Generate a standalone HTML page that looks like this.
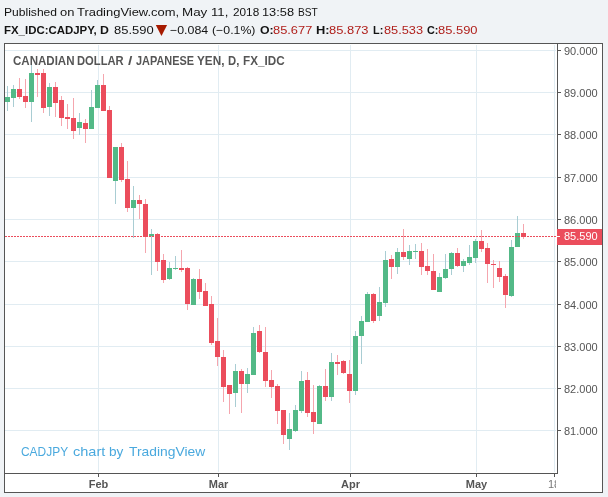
<!DOCTYPE html>
<html><head><meta charset="utf-8"><title>CADJPY chart by TradingView</title>
<style>
html,body{margin:0;padding:0}
body{width:608px;height:497px;background:#f0f3f6;position:relative;overflow:hidden;font-family:"Liberation Sans",Arial,sans-serif;}
.t{position:absolute;white-space:nowrap;line-height:1;transform-origin:0 0;}
.pl{font-size:11px;color:#555;left:564px}
.tl{font-size:11px;color:#555;font-weight:bold;text-align:center;width:40px}
</style></head><body>
<svg width="608" height="497" viewBox="0 0 608 497" shape-rendering="crispEdges" style="position:absolute;left:0;top:0">
<rect x="4" y="43" width="599" height="450" fill="#fff"/>
<rect x="5" y="50" width="551" height="1" fill="#e1ecf2"/>
<rect x="5" y="92" width="551" height="1" fill="#e1ecf2"/>
<rect x="5" y="134" width="551" height="1" fill="#e1ecf2"/>
<rect x="5" y="177" width="551" height="1" fill="#e1ecf2"/>
<rect x="5" y="219" width="551" height="1" fill="#e1ecf2"/>
<rect x="5" y="261" width="551" height="1" fill="#e1ecf2"/>
<rect x="5" y="304" width="551" height="1" fill="#e1ecf2"/>
<rect x="5" y="346" width="551" height="1" fill="#e1ecf2"/>
<rect x="5" y="388" width="551" height="1" fill="#e1ecf2"/>
<rect x="5" y="430" width="551" height="1" fill="#e1ecf2"/>
<rect x="98" y="45" width="1" height="427" fill="#e1ecf2"/>
<rect x="218" y="45" width="1" height="427" fill="#e1ecf2"/>
<rect x="350" y="45" width="1" height="427" fill="#e1ecf2"/>
<rect x="476" y="45" width="1" height="427" fill="#e1ecf2"/>
<rect x="554" y="45" width="1" height="427" fill="#e1ecf2"/>
<rect x="7" y="86" width="1" height="25" fill="#a9cdd3"/>
<rect x="13" y="85" width="1" height="22" fill="#a9cdd3"/>
<rect x="19" y="78" width="1" height="21" fill="#f5a6ae"/>
<rect x="25" y="79" width="1" height="29" fill="#f5a6ae"/>
<rect x="31" y="65" width="1" height="57" fill="#a9cdd3"/>
<rect x="37" y="69" width="1" height="28" fill="#f5a6ae"/>
<rect x="43" y="69" width="1" height="44" fill="#f5a6ae"/>
<rect x="49" y="83" width="1" height="33" fill="#a9cdd3"/>
<rect x="55" y="82" width="1" height="35" fill="#f5a6ae"/>
<rect x="61" y="96" width="1" height="30" fill="#f5a6ae"/>
<rect x="67" y="104" width="1" height="25" fill="#f5a6ae"/>
<rect x="73" y="98" width="1" height="41" fill="#f5a6ae"/>
<rect x="79" y="113" width="1" height="22" fill="#a9cdd3"/>
<rect x="85" y="119" width="1" height="24" fill="#f5a6ae"/>
<rect x="91" y="90" width="1" height="39" fill="#a9cdd3"/>
<rect x="97" y="80" width="1" height="28" fill="#a9cdd3"/>
<rect x="103" y="74" width="1" height="37" fill="#f5a6ae"/>
<rect x="109" y="106" width="1" height="72" fill="#f5a6ae"/>
<rect x="115" y="147" width="1" height="57" fill="#a9cdd3"/>
<rect x="121" y="143" width="1" height="39" fill="#f5a6ae"/>
<rect x="127" y="161" width="1" height="51" fill="#f5a6ae"/>
<rect x="133" y="186" width="1" height="52" fill="#a9cdd3"/>
<rect x="139" y="195" width="1" height="24" fill="#f5a6ae"/>
<rect x="145" y="199" width="1" height="54" fill="#f5a6ae"/>
<rect x="151" y="229" width="1" height="46" fill="#a9cdd3"/>
<rect x="157" y="233" width="1" height="38" fill="#f5a6ae"/>
<rect x="163" y="254" width="1" height="29" fill="#f5a6ae"/>
<rect x="169" y="262" width="1" height="18" fill="#a9cdd3"/>
<rect x="175" y="256" width="1" height="14" fill="#a9cdd3"/>
<rect x="181" y="250" width="1" height="22" fill="#f5a6ae"/>
<rect x="187" y="267" width="1" height="43" fill="#f5a6ae"/>
<rect x="193" y="278" width="1" height="27" fill="#a9cdd3"/>
<rect x="199" y="269" width="1" height="30" fill="#f5a6ae"/>
<rect x="205" y="283" width="1" height="23" fill="#f5a6ae"/>
<rect x="211" y="296" width="1" height="49" fill="#f5a6ae"/>
<rect x="217" y="318" width="1" height="48" fill="#f5a6ae"/>
<rect x="223" y="350" width="1" height="52" fill="#f5a6ae"/>
<rect x="229" y="385" width="1" height="29" fill="#f5a6ae"/>
<rect x="235" y="364" width="1" height="43" fill="#a9cdd3"/>
<rect x="241" y="369" width="1" height="44" fill="#f5a6ae"/>
<rect x="247" y="368" width="1" height="25" fill="#a9cdd3"/>
<rect x="253" y="327" width="1" height="48" fill="#a9cdd3"/>
<rect x="259" y="325" width="1" height="28" fill="#f5a6ae"/>
<rect x="265" y="327" width="1" height="60" fill="#f5a6ae"/>
<rect x="271" y="370" width="1" height="28" fill="#f5a6ae"/>
<rect x="277" y="384" width="1" height="40" fill="#f5a6ae"/>
<rect x="283" y="410" width="1" height="34" fill="#f5a6ae"/>
<rect x="289" y="413" width="1" height="37" fill="#a9cdd3"/>
<rect x="295" y="405" width="1" height="27" fill="#a9cdd3"/>
<rect x="301" y="371" width="1" height="42" fill="#a9cdd3"/>
<rect x="307" y="372" width="1" height="45" fill="#f5a6ae"/>
<rect x="313" y="385" width="1" height="49" fill="#f5a6ae"/>
<rect x="319" y="385" width="1" height="39" fill="#a9cdd3"/>
<rect x="325" y="369" width="1" height="32" fill="#f5a6ae"/>
<rect x="331" y="353" width="1" height="48" fill="#a9cdd3"/>
<rect x="337" y="355" width="1" height="20" fill="#f5a6ae"/>
<rect x="343" y="360" width="1" height="14" fill="#f5a6ae"/>
<rect x="349" y="360" width="1" height="43" fill="#f5a6ae"/>
<rect x="355" y="331" width="1" height="64" fill="#a9cdd3"/>
<rect x="361" y="316" width="1" height="48" fill="#a9cdd3"/>
<rect x="367" y="292" width="1" height="30" fill="#a9cdd3"/>
<rect x="373" y="293" width="1" height="30" fill="#f5a6ae"/>
<rect x="379" y="287" width="1" height="34" fill="#a9cdd3"/>
<rect x="385" y="251" width="1" height="56" fill="#a9cdd3"/>
<rect x="391" y="255" width="1" height="24" fill="#f5a6ae"/>
<rect x="397" y="248" width="1" height="26" fill="#a9cdd3"/>
<rect x="403" y="229" width="1" height="31" fill="#f5a6ae"/>
<rect x="409" y="245" width="1" height="20" fill="#a9cdd3"/>
<rect x="415" y="244" width="1" height="15" fill="#a9cdd3"/>
<rect x="421" y="243" width="1" height="32" fill="#f5a6ae"/>
<rect x="427" y="249" width="1" height="26" fill="#f5a6ae"/>
<rect x="433" y="254" width="1" height="36" fill="#f5a6ae"/>
<rect x="439" y="273" width="1" height="19" fill="#a9cdd3"/>
<rect x="445" y="254" width="1" height="25" fill="#a9cdd3"/>
<rect x="451" y="252" width="1" height="23" fill="#a9cdd3"/>
<rect x="457" y="248" width="1" height="19" fill="#f5a6ae"/>
<rect x="463" y="259" width="1" height="13" fill="#a9cdd3"/>
<rect x="469" y="245" width="1" height="20" fill="#a9cdd3"/>
<rect x="475" y="239" width="1" height="24" fill="#a9cdd3"/>
<rect x="481" y="230" width="1" height="22" fill="#f5a6ae"/>
<rect x="487" y="243" width="1" height="40" fill="#f5a6ae"/>
<rect x="493" y="260" width="1" height="28" fill="#f5a6ae"/>
<rect x="499" y="261" width="1" height="21" fill="#f5a6ae"/>
<rect x="505" y="274" width="1" height="34" fill="#f5a6ae"/>
<rect x="511" y="240" width="1" height="57" fill="#a9cdd3"/>
<rect x="517" y="216" width="1" height="31" fill="#a9cdd3"/>
<rect x="523" y="224" width="1" height="15" fill="#f5a6ae"/>
<rect x="5" y="97" width="5" height="5" fill="#53b987"/>
<rect x="11" y="89" width="5" height="9" fill="#53b987"/>
<rect x="17" y="89" width="5" height="8" fill="#eb4d5c"/>
<rect x="23" y="96" width="5" height="6" fill="#eb4d5c"/>
<rect x="29" y="73" width="5" height="29" fill="#53b987"/>
<rect x="35" y="73" width="5" height="2" fill="#eb4d5c"/>
<rect x="41" y="73" width="5" height="35" fill="#eb4d5c"/>
<rect x="47" y="87" width="5" height="20" fill="#53b987"/>
<rect x="53" y="87" width="5" height="16" fill="#eb4d5c"/>
<rect x="59" y="100" width="5" height="18" fill="#eb4d5c"/>
<rect x="65" y="117" width="5" height="2" fill="#eb4d5c"/>
<rect x="71" y="118" width="5" height="13" fill="#eb4d5c"/>
<rect x="77" y="122" width="5" height="6" fill="#53b987"/>
<rect x="83" y="123" width="5" height="6" fill="#eb4d5c"/>
<rect x="89" y="107" width="5" height="22" fill="#53b987"/>
<rect x="95" y="85" width="5" height="23" fill="#53b987"/>
<rect x="101" y="85" width="5" height="26" fill="#eb4d5c"/>
<rect x="107" y="110" width="5" height="68" fill="#eb4d5c"/>
<rect x="113" y="147" width="5" height="34" fill="#53b987"/>
<rect x="119" y="147" width="5" height="33" fill="#eb4d5c"/>
<rect x="125" y="179" width="5" height="29" fill="#eb4d5c"/>
<rect x="131" y="200" width="5" height="8" fill="#53b987"/>
<rect x="137" y="200" width="5" height="4" fill="#eb4d5c"/>
<rect x="143" y="204" width="5" height="33" fill="#eb4d5c"/>
<rect x="149" y="234" width="5" height="2" fill="#53b987"/>
<rect x="155" y="234" width="5" height="28" fill="#eb4d5c"/>
<rect x="161" y="260" width="5" height="20" fill="#eb4d5c"/>
<rect x="167" y="268" width="5" height="11" fill="#53b987"/>
<rect x="173" y="268" width="5" height="1" fill="#53b987"/>
<rect x="179" y="268" width="5" height="2" fill="#eb4d5c"/>
<rect x="185" y="268" width="5" height="36" fill="#eb4d5c"/>
<rect x="191" y="279" width="5" height="26" fill="#53b987"/>
<rect x="197" y="279" width="5" height="13" fill="#eb4d5c"/>
<rect x="203" y="291" width="5" height="15" fill="#eb4d5c"/>
<rect x="209" y="304" width="5" height="39" fill="#eb4d5c"/>
<rect x="215" y="341" width="5" height="16" fill="#eb4d5c"/>
<rect x="221" y="357" width="5" height="30" fill="#eb4d5c"/>
<rect x="227" y="385" width="5" height="9" fill="#eb4d5c"/>
<rect x="233" y="371" width="5" height="22" fill="#53b987"/>
<rect x="239" y="371" width="5" height="13" fill="#eb4d5c"/>
<rect x="245" y="374" width="5" height="10" fill="#53b987"/>
<rect x="251" y="333" width="5" height="42" fill="#53b987"/>
<rect x="257" y="331" width="5" height="21" fill="#eb4d5c"/>
<rect x="263" y="352" width="5" height="29" fill="#eb4d5c"/>
<rect x="269" y="380" width="5" height="7" fill="#eb4d5c"/>
<rect x="275" y="386" width="5" height="25" fill="#eb4d5c"/>
<rect x="281" y="410" width="5" height="25" fill="#eb4d5c"/>
<rect x="287" y="429" width="5" height="10" fill="#53b987"/>
<rect x="293" y="410" width="5" height="21" fill="#53b987"/>
<rect x="299" y="381" width="5" height="30" fill="#53b987"/>
<rect x="305" y="380" width="5" height="33" fill="#eb4d5c"/>
<rect x="311" y="412" width="5" height="10" fill="#eb4d5c"/>
<rect x="317" y="386" width="5" height="38" fill="#53b987"/>
<rect x="323" y="386" width="5" height="11" fill="#eb4d5c"/>
<rect x="329" y="362" width="5" height="35" fill="#53b987"/>
<rect x="335" y="362" width="5" height="2" fill="#eb4d5c"/>
<rect x="341" y="361" width="5" height="12" fill="#eb4d5c"/>
<rect x="347" y="374" width="5" height="17" fill="#eb4d5c"/>
<rect x="353" y="336" width="5" height="55" fill="#53b987"/>
<rect x="359" y="321" width="5" height="15" fill="#53b987"/>
<rect x="365" y="294" width="5" height="28" fill="#53b987"/>
<rect x="371" y="294" width="5" height="27" fill="#eb4d5c"/>
<rect x="377" y="302" width="5" height="14" fill="#53b987"/>
<rect x="383" y="260" width="5" height="43" fill="#53b987"/>
<rect x="389" y="259" width="5" height="8" fill="#eb4d5c"/>
<rect x="395" y="252" width="5" height="15" fill="#53b987"/>
<rect x="401" y="252" width="5" height="5" fill="#eb4d5c"/>
<rect x="407" y="251" width="5" height="8" fill="#53b987"/>
<rect x="413" y="251" width="5" height="1" fill="#53b987"/>
<rect x="419" y="251" width="5" height="16" fill="#eb4d5c"/>
<rect x="425" y="266" width="5" height="5" fill="#eb4d5c"/>
<rect x="431" y="271" width="5" height="19" fill="#eb4d5c"/>
<rect x="437" y="277" width="5" height="15" fill="#53b987"/>
<rect x="443" y="269" width="5" height="9" fill="#53b987"/>
<rect x="449" y="253" width="5" height="16" fill="#53b987"/>
<rect x="455" y="253" width="5" height="13" fill="#eb4d5c"/>
<rect x="461" y="261" width="5" height="5" fill="#53b987"/>
<rect x="467" y="257" width="5" height="6" fill="#53b987"/>
<rect x="473" y="241" width="5" height="17" fill="#53b987"/>
<rect x="479" y="241" width="5" height="8" fill="#eb4d5c"/>
<rect x="485" y="248" width="5" height="16" fill="#eb4d5c"/>
<rect x="491" y="264" width="5" height="1" fill="#eb4d5c"/>
<rect x="497" y="268" width="5" height="9" fill="#eb4d5c"/>
<rect x="503" y="276" width="5" height="19" fill="#eb4d5c"/>
<rect x="509" y="247" width="5" height="49" fill="#53b987"/>
<rect x="515" y="233" width="5" height="14" fill="#53b987"/>
<rect x="521" y="233" width="5" height="4" fill="#eb4d5c"/>
<line x1="5" y1="236.5" x2="557" y2="236.5" stroke="#eb4d5c" stroke-width="1" stroke-dasharray="2,1"/>
<rect x="4" y="43" width="599" height="1" fill="#555"/>
<rect x="4" y="492" width="599" height="1" fill="#555"/>
<rect x="4" y="43" width="1" height="450" fill="#555"/>
<rect x="602" y="43" width="1" height="450" fill="#555"/>
<rect x="557" y="43" width="1" height="431" fill="#555"/>
<rect x="4" y="473" width="554" height="1" fill="#555"/>
<rect x="558" y="50" width="3" height="1" fill="#555"/>
<rect x="558" y="92" width="3" height="1" fill="#555"/>
<rect x="558" y="134" width="3" height="1" fill="#555"/>
<rect x="558" y="177" width="3" height="1" fill="#555"/>
<rect x="558" y="219" width="3" height="1" fill="#555"/>
<rect x="558" y="261" width="3" height="1" fill="#555"/>
<rect x="558" y="304" width="3" height="1" fill="#555"/>
<rect x="558" y="346" width="3" height="1" fill="#555"/>
<rect x="558" y="388" width="3" height="1" fill="#555"/>
<rect x="558" y="430" width="3" height="1" fill="#555"/>
<rect x="98" y="474" width="1" height="3" fill="#555"/>
<rect x="218" y="474" width="1" height="3" fill="#555"/>
<rect x="350" y="474" width="1" height="3" fill="#555"/>
<rect x="476" y="474" width="1" height="3" fill="#555"/>
<rect x="554" y="474" width="1" height="3" fill="#555"/>
<rect x="557" y="229" width="45" height="16" fill="#eb4d5c"/>
<rect x="557" y="236" width="3" height="1" fill="#fff"/>
</svg>
<div class="t" id="a1" style="left:3.61px;top:5.68px;font-size:11.6px;color:#131313;transform:scaleX(1.0419)">Published</div>
<div class="t" id="a2" style="left:59.90px;top:5.68px;font-size:11.6px;color:#131313;transform:scaleX(1.1165)">on</div>
<div class="t" id="a3" style="left:76.80px;top:5.68px;font-size:11.6px;color:#131313;transform:scaleX(1.1158)">TradingView.com,</div>
<div class="t" id="a4" style="left:182.02px;top:5.68px;font-size:11.6px;color:#131313;transform:scaleX(1.1550)">May</div>
<div class="t" id="a5" style="left:210.94px;top:5.68px;font-size:11.6px;color:#131313;transform:scaleX(1.1345)">11,</div>
<div class="t" id="a6" style="left:232.89px;top:5.68px;font-size:11.6px;color:#131313;transform:scaleX(1.0153)">2018</div>
<div class="t" id="a7" style="left:262.42px;top:5.68px;font-size:11.6px;color:#131313;transform:scaleX(1.1048)">13:58</div>
<div class="t" id="a8" style="left:298.34px;top:5.68px;font-size:11.6px;color:#131313;transform:scaleX(0.8783)">BST</div>
<div class="t" id="s1" style="left:3.70px;top:23.78px;font-size:11.6px;color:#131313;font-weight:bold;transform:scaleX(0.9861)">FX_IDC:CADJPY,</div>
<div class="t" id="s1b" style="left:99.73px;top:23.78px;font-size:11.6px;color:#131313;font-weight:bold;transform:scaleX(1.0613)">D</div>
<div class="t" id="s2" style="left:114.16px;top:23.78px;font-size:11.6px;color:#131313;transform:scaleX(1.1169)">85.590</div>
<div class="t" id="s3" style="left:170.29px;top:23.78px;font-size:11.6px;color:#131313;transform:scaleX(1.0675)">−0.084</div>
<div class="t" id="s3b" style="left:211.63px;top:23.78px;font-size:11.6px;color:#131313;transform:scaleX(1.0613)">(−0.1%)</div>
<div class="t" id="s4" style="left:259.50px;top:23.78px;font-size:11.6px;color:#131313;font-weight:bold;transform:scaleX(1.0610)">O:</div>
<div class="t" id="s5" style="left:272.72px;top:23.78px;font-size:11.6px;color:#b0201c;transform:scaleX(1.1077)">85.677</div>
<div class="t" id="s6" style="left:315.97px;top:23.78px;font-size:11.6px;color:#131313;font-weight:bold;transform:scaleX(1.1091)">H:</div>
<div class="t" id="s7" style="left:329.33px;top:23.78px;font-size:11.6px;color:#b0201c;transform:scaleX(1.1140)">85.873</div>
<div class="t" id="s8" style="left:373.05px;top:23.78px;font-size:11.6px;color:#131313;font-weight:bold;transform:scaleX(0.9396)">L:</div>
<div class="t" id="s9" style="left:383.55px;top:23.78px;font-size:11.6px;color:#b0201c;transform:scaleX(1.1018)">85.533</div>
<div class="t" id="s10" style="left:426.56px;top:23.78px;font-size:11.6px;color:#131313;font-weight:bold;transform:scaleX(0.9351)">C:</div>
<div class="t" id="s11" style="left:438.45px;top:23.78px;font-size:11.6px;color:#b0201c;transform:scaleX(1.1135)">85.590</div>
<div class="t" id="t1" style="left:12.90px;top:55.26px;font-size:12.1px;color:#555;font-weight:bold;transform:scaleX(0.9538)">CANADIAN</div>
<div class="t" id="t2" style="left:77.04px;top:55.26px;font-size:12.1px;color:#555;font-weight:bold;transform:scaleX(0.9263)">DOLLAR</div>
<div class="t" id="t3" style="left:127.77px;top:55.26px;font-size:12.1px;color:#555;font-weight:bold;transform:scaleX(1.3000)">/</div>
<div class="t" id="t4" style="left:136.16px;top:55.26px;font-size:12.1px;color:#555;font-weight:bold;transform:scaleX(0.9017)">JAPANESE</div>
<div class="t" id="t5" style="left:197.10px;top:55.26px;font-size:12.1px;color:#555;font-weight:bold;transform:scaleX(0.9716)">YEN,</div>
<div class="t" id="t6" style="left:227.63px;top:55.26px;font-size:12.1px;color:#555;font-weight:bold;transform:scaleX(0.9329)">D,</div>
<div class="t" id="t7" style="left:242.90px;top:55.26px;font-size:12.1px;color:#555;font-weight:bold;transform:scaleX(0.9666)">FX_IDC</div>
<div class="t" id="w1" style="left:21.44px;top:444.93px;font-size:13.2px;color:#4aa9de;transform:scaleX(0.9055)">CADJPY</div>
<div class="t" id="w2" style="left:72.55px;top:444.93px;font-size:13.2px;color:#4aa9de;transform:scaleX(1.1008)">chart</div>
<div class="t" id="w3" style="left:108.97px;top:444.93px;font-size:13.2px;color:#4aa9de;transform:scaleX(1.0311)">by</div>
<div class="t" id="w4" style="left:128.95px;top:444.93px;font-size:13.2px;color:#4aa9de;transform:scaleX(1.0492)">TradingView</div>
<svg class="t" id="tri" style="left:154px;top:23px" width="16" height="15" viewBox="154 23 16 15"><polygon points="155.8,25 167.1,25 161.45,35.9" fill="#a61a00"/></svg>
<div class="t pl" style="top:45.6px">90.000</div>
<div class="t pl" style="top:87.6px">89.000</div>
<div class="t pl" style="top:129.6px">88.000</div>
<div class="t pl" style="top:172.6px">87.000</div>
<div class="t pl" style="top:214.6px">86.000</div>
<div class="t pl" style="top:256.6px">85.000</div>
<div class="t pl" style="top:299.6px">84.000</div>
<div class="t pl" style="top:341.6px">83.000</div>
<div class="t pl" style="top:383.6px">82.000</div>
<div class="t pl" style="top:425.6px">81.000</div>
<div class="t pl" style="top:231.2px;color:#fff">85.590</div>
<div class="t tl" style="left:78.5px;top:478.7px">Feb</div>
<div class="t tl" style="left:198.5px;top:478.7px">Mar</div>
<div class="t tl" style="left:330.5px;top:478.7px">Apr</div>
<div class="t tl" style="left:456.5px;top:478.7px">May</div>
<div class="t tl" style="left:548px;top:478.7px;width:8.3px;overflow:hidden;text-align:left;font-weight:normal;color:#777">18</div>
</body></html>
